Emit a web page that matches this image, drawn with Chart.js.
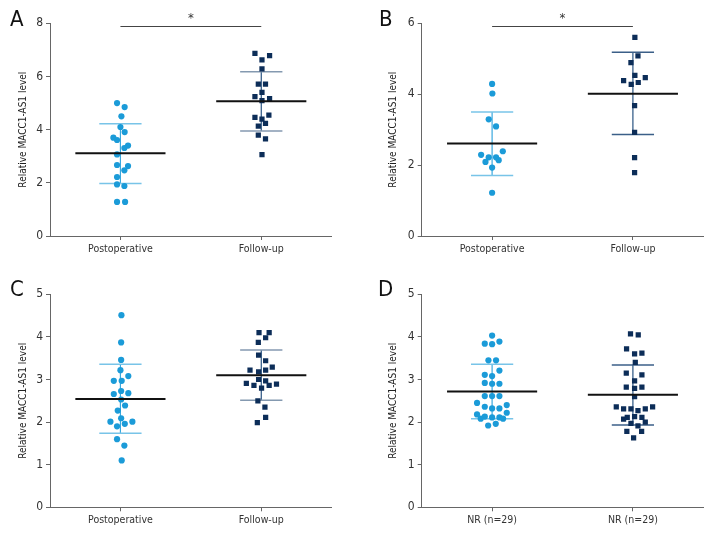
<!DOCTYPE html>
<html>
<head>
<meta charset="utf-8">
<script src="https://cdn.jsdelivr.net/npm/chart.js@4.4.1/dist/chart.umd.min.js"></script>
<style>
    html, body { margin: 0; padding: 0; background: #fff; }
    #wrap { position: relative; width: 720px; height: 540px; }
    .panel { position: absolute; width: 360px; height: 270px; }
</style>
</head>
<body>
<div id="wrap">
    <div class="panel" style="left:0;top:0"><canvas id="chartA" width="360" height="270"></canvas></div>
    <div class="panel" style="left:360px;top:0"><canvas id="chartB" width="360" height="270"></canvas></div>
    <div class="panel" style="left:0;top:270px"><canvas id="chartC" width="360" height="270"></canvas></div>
    <div class="panel" style="left:360px;top:270px"><canvas id="chartD" width="360" height="270"></canvas></div>
</div>
<script>
const groupLabels = ['Postoperative', 'Follow-up'];
const groupLabelsNR = ['NR (n=29)', 'NR (n=29)'];
const yTitle = 'Relative MACC1-AS1 level';

// Panel A
const aPostValues = [5.0, 4.85, 4.5, 4.1, 3.91, 3.7, 3.61, 3.4, 3.31, 3.07, 2.67, 2.63, 2.47, 2.22, 1.94, 1.88, 1.28, 1.28];
const aPostJitter = [-0.024, 0.03, 0.007, 0, 0.03, -0.05, -0.024, 0.054, 0.028, -0.024, -0.024, 0.054, 0.028, -0.024, -0.024, 0.028, -0.024, 0.033];
const aFollowValues = [6.87, 6.78, 6.62, 6.29, 5.71, 5.71, 5.40, 5.24, 5.17, 5.09, 4.55, 4.46, 4.40, 4.24, 4.13, 3.79, 3.65, 3.06];
const aFollowJitter = [-0.045, 0.059, 0.005, 0.005, -0.021, 0.03, 0.005, -0.045, 0.059, 0.005, 0.054, -0.045, 0.005, 0.03, -0.021, -0.021, 0.03, 0.005];
const aMeans = [3.11, 5.07];
const aSdHigh = [4.22, 6.18];
const aSdLow = [1.97, 3.95];

// Panel B
const bPostValues = [4.29, 4.02, 3.29, 3.09, 2.29, 2.39, 2.22, 2.22, 2.09, 2.14, 1.93, 1.22];
const bPostJitter = [0, 0.002, -0.024, 0.028, -0.078, 0.076, -0.024, 0.028, -0.047, 0.047, 0, 0];
const bFollowValues = [5.60, 5.08, 4.89, 4.53, 4.38, 4.47, 4.28, 4.33, 3.68, 2.92, 2.21, 1.79];
const bFollowJitter = [0.014, 0.036, -0.014, 0.014, -0.066, 0.088, -0.012, 0.038, 0.012, 0.012, 0.012, 0.012];
const bMeans = [2.61, 4.01];
const bSdHigh = [3.50, 5.18];
const bSdLow = [1.71, 2.86];

// Panel C
const cPostValues = [4.51, 3.87, 3.46, 3.22, 3.08, 2.97, 2.97, 2.73, 2.66, 2.68, 2.53, 2.39, 2.27, 2.09, 2.01, 2.01, 1.90, 1.96, 1.60, 1.45, 1.10];
const cPostJitter = [0.007, 0.005, 0.005, 0, 0.056, -0.047, 0.009, 0.005, -0.047, 0.056, 0.005, 0.033, -0.019, 0.005, -0.071, 0.085, -0.024, 0.031, -0.024, 0.028, 0.009];
const cFollowValues = [4.10, 4.10, 3.98, 3.87, 3.57, 3.44, 3.29, 3.22, 3.18, 3.22, 3.00, 2.97, 2.91, 2.86, 2.80, 2.86, 2.89, 2.50, 2.35, 2.11, 1.99];
const cFollowJitter = [-0.016, 0.056, 0.031, -0.021, -0.019, 0.031, 0.078, -0.08, -0.019, 0.031, -0.019, 0.031, -0.106, -0.052, 0.002, 0.056, 0.108, -0.024, 0.026, 0.031, -0.028];
const cMeans = [2.54, 3.10];
const cSdHigh = [3.36, 3.69];
const cSdLow = [1.74, 2.51];

// Panel D
const dPostValues = [4.03, 3.84, 3.83, 3.89, 3.45, 3.45, 3.11, 3.08, 3.21, 2.92, 2.90, 2.90, 2.61, 2.61, 2.61, 2.45, 2.36, 2.32, 2.32, 2.40, 2.18, 2.13, 2.11, 2.11, 2.22, 2.08, 2.08, 1.92, 1.96];
const dPostJitter = [0, -0.052, 0, 0.052, -0.026, 0.028, -0.052, 0, 0.052, -0.052, 0, 0.052, -0.052, 0, 0.052, -0.107, -0.052, 0, 0.052, 0.104, -0.107, -0.052, 0, 0.052, 0.104, -0.081, 0.078, -0.028, 0.026];
const dFollowValues = [4.07, 4.05, 3.72, 3.60, 3.62, 3.40, 3.15, 3.11, 2.97, 2.82, 2.79, 2.82, 2.60, 2.36, 2.31, 2.31, 2.27, 2.31, 2.36, 2.07, 2.11, 2.13, 2.11, 1.97, 2.00, 1.91, 1.78, 1.78, 1.63];
const dFollowJitter = [-0.017, 0.038, -0.045, 0.012, 0.064, 0.017, -0.047, 0.064, 0.012, -0.047, 0.012, 0.064, 0.012, -0.118, -0.066, -0.014, 0.036, 0.088, 0.14, -0.066, -0.04, 0.012, 0.064, -0.014, 0.088, 0.036, -0.043, 0.062, 0.005];
const dMeans = [2.72, 2.64];
const dSdHigh = [3.36, 3.34];
const dSdLow = [2.08, 1.93];

const FONT = "'Liberation Sans Narrow', 'DejaVu Sans Condensed', 'Arial Narrow', sans-serif";
const POST_COLOR = '#1b9bd8';
const FOLLOW_COLOR = '#0c2d58';
const AXIS_COLOR = '#666666';

function toPoints(values, jitter, center) {
    return values.map((v, i) => ({ x: center + jitter[i], y: v }));
}

// Draws panel letter, mean/SD bars and the significance bracket
const panelExtras = {
    id: 'panelExtras',
    beforeDatasetsDraw(chart, args, opts) {
        const ctx = chart.ctx;
        const xs = chart.scales.x;
        const ys = chart.scales.y;
        ctx.save();
        opts.means.forEach((m, i) => {
            const c = i + 1;
            const st = opts.barColors[i];
            // stem
            ctx.strokeStyle = st.stem;
            ctx.lineWidth = 1.2;
            ctx.beginPath();
            ctx.moveTo(xs.getPixelForValue(c), ys.getPixelForValue(opts.sdLow[i]));
            ctx.lineTo(xs.getPixelForValue(c), ys.getPixelForValue(opts.sdHigh[i]));
            ctx.stroke();
            // caps
            ctx.strokeStyle = st.cap;
            ctx.lineWidth = 1.5;
            [opts.sdLow[i], opts.sdHigh[i]].forEach(v => {
                const py = ys.getPixelForValue(v);
                ctx.beginPath();
                ctx.moveTo(xs.getPixelForValue(c - 0.15), py);
                ctx.lineTo(xs.getPixelForValue(c + 0.15), py);
                ctx.stroke();
            });
        });
        ctx.restore();
    },
    afterDatasetsDraw(chart, args, opts) {
        const ctx = chart.ctx;
        const xs = chart.scales.x;
        const ys = chart.scales.y;
        ctx.save();
        // mean lines
        ctx.strokeStyle = '#111';
        ctx.lineWidth = 2;
        opts.means.forEach((m, i) => {
            const c = i + 1;
            const py = ys.getPixelForValue(m);
            ctx.beginPath();
            ctx.moveTo(xs.getPixelForValue(c - 0.32), py);
            ctx.lineTo(xs.getPixelForValue(c + 0.32), py);
            ctx.stroke();
        });
        // significance bracket
        if (opts.bracket != null) {
            const py = Math.round(ys.getPixelForValue(opts.bracket)) + 0.5;
            const x1 = xs.getPixelForValue(1);
            const x2 = xs.getPixelForValue(2);
            ctx.strokeStyle = '#444';
            ctx.lineWidth = 1;
            ctx.beginPath();
            ctx.moveTo(x1, py);
            ctx.lineTo(x2, py);
            ctx.stroke();
            ctx.fillStyle = '#333';
            ctx.font = '13px ' + FONT;
            ctx.textAlign = 'center';
            ctx.textBaseline = 'middle';
            ctx.fillText('*', (x1 + x2) / 2, py - 8);
        }
        // panel letter
        ctx.fillStyle = '#111';
        ctx.font = '22px ' + FONT;
        ctx.textAlign = 'left';
        ctx.textBaseline = 'alphabetic';
        ctx.fillText(opts.letter, opts.letterX, opts.letterY);
        ctx.restore();
    }
};

function makePanel(canvasId, p) {
    const area = p.area;
    new Chart(document.getElementById(canvasId), {
        type: 'scatter',
        data: {
            datasets: [
                {
                    data: toPoints(p.post, p.postJitter, 1),
                    backgroundColor: POST_COLOR,
                    borderWidth: 0,
                    pointStyle: 'circle',
                    pointRadius: 3.1
                },
                {
                    data: toPoints(p.follow, p.followJitter, 2),
                    backgroundColor: FOLLOW_COLOR,
                    borderWidth: 0,
                    pointStyle: 'rect',
                    pointRadius: 3.7
                }
            ]
        },
        options: {
            responsive: false,
            animation: false,
            layout: {
                padding: { left: 0, top: area.top, right: 360 - area.right, bottom: 0 }
            },
            plugins: {
                legend: { display: false },
                tooltip: { enabled: false },
                panelExtras: {
                    letter: p.letter,
                    letterX: p.letterX,
                    letterY: 26,
                    means: p.means,
                    sdHigh: p.sdHigh,
                    sdLow: p.sdLow,
                    barColors: p.barColors,
                    bracket: p.bracket
                }
            },
            scales: {
                x: {
                    type: 'linear',
                    min: 0.5,
                    max: 2.5,
                    afterBuildTicks(scale) {
                        scale.ticks = [{ value: 1 }, { value: 2 }];
                    },
                    afterFit(scale) {
                        scale.height = 270 - area.bottom;
                    },
                    ticks: {
                        color: '#333',
                        font: { family: FONT, size: 10.5 },
                        padding: 3,
                        maxRotation: 0,
                        callback: (v) => p.labels[v - 1]
                    },
                    grid: { display: true, drawOnChartArea: false, drawTicks: true, tickLength: 4, color: AXIS_COLOR },
                    border: { display: true, color: AXIS_COLOR, width: 1 }
                },
                y: {
                    min: 0,
                    max: p.yMax,
                    afterFit(scale) {
                        scale.width = area.left;
                    },
                    ticks: {
                        stepSize: p.yStep,
                        color: '#333',
                        font: { family: FONT, size: 12 },
                        padding: 3
                    },
                    grid: { display: true, drawOnChartArea: false, drawTicks: true, tickLength: 4, color: AXIS_COLOR },
                    border: { display: true, color: AXIS_COLOR, width: 1 },
                    title: {
                        display: true,
                        text: yTitle,
                        color: '#222',
                        font: { family: FONT, size: 10 },
                        padding: { top: p.titlePad, bottom: 0 }
                    }
                }
            }
        },
        plugins: [panelExtras]
    });
}

const lightBars = { stem: '#3aa8de', cap: '#78c4e8' };
const greyBars = { stem: '#2a5482', cap: '#8499b0' };
const darkBars = { stem: '#2a5482', cap: '#3b5f88' };

makePanel('chartA', {
    letter: 'A', letterX: 10,
    area: { left: 50, top: 23.3, right: 331.7, bottom: 236 },
    titlePad: 17,
    yMax: 8, yStep: 2,
    labels: groupLabels,
    post: aPostValues, postJitter: aPostJitter,
    follow: aFollowValues, followJitter: aFollowJitter,
    means: aMeans, sdHigh: aSdHigh, sdLow: aSdLow,
    barColors: [lightBars, greyBars],
    bracket: 7.9
});

makePanel('chartB', {
    letter: 'B', letterX: 19,
    area: { left: 61.7, top: 23.3, right: 343.3, bottom: 236 },
    titlePad: 27.5,
    yMax: 6, yStep: 2,
    labels: groupLabels,
    post: bPostValues, postJitter: bPostJitter,
    follow: bFollowValues, followJitter: bFollowJitter,
    means: bMeans, sdHigh: bSdHigh, sdLow: bSdLow,
    barColors: [lightBars, darkBars],
    bracket: 5.92
});

makePanel('chartC', {
    letter: 'C', letterX: 10,
    area: { left: 50, top: 24.3, right: 331.7, bottom: 237.3 },
    titlePad: 17,
    yMax: 5, yStep: 1,
    labels: groupLabels,
    post: cPostValues, postJitter: cPostJitter,
    follow: cFollowValues, followJitter: cFollowJitter,
    means: cMeans, sdHigh: cSdHigh, sdLow: cSdLow,
    barColors: [lightBars, greyBars],
    bracket: null
});

makePanel('chartD', {
    letter: 'D', letterX: 18,
    area: { left: 61.7, top: 24.3, right: 343.3, bottom: 237.3 },
    titlePad: 27.5,
    yMax: 5, yStep: 1,
    labels: groupLabelsNR,
    post: dPostValues, postJitter: dPostJitter,
    follow: dFollowValues, followJitter: dFollowJitter,
    means: dMeans, sdHigh: dSdHigh, sdLow: dSdLow,
    barColors: [lightBars, darkBars],
    bracket: null
});
</script>
</body>
</html>
